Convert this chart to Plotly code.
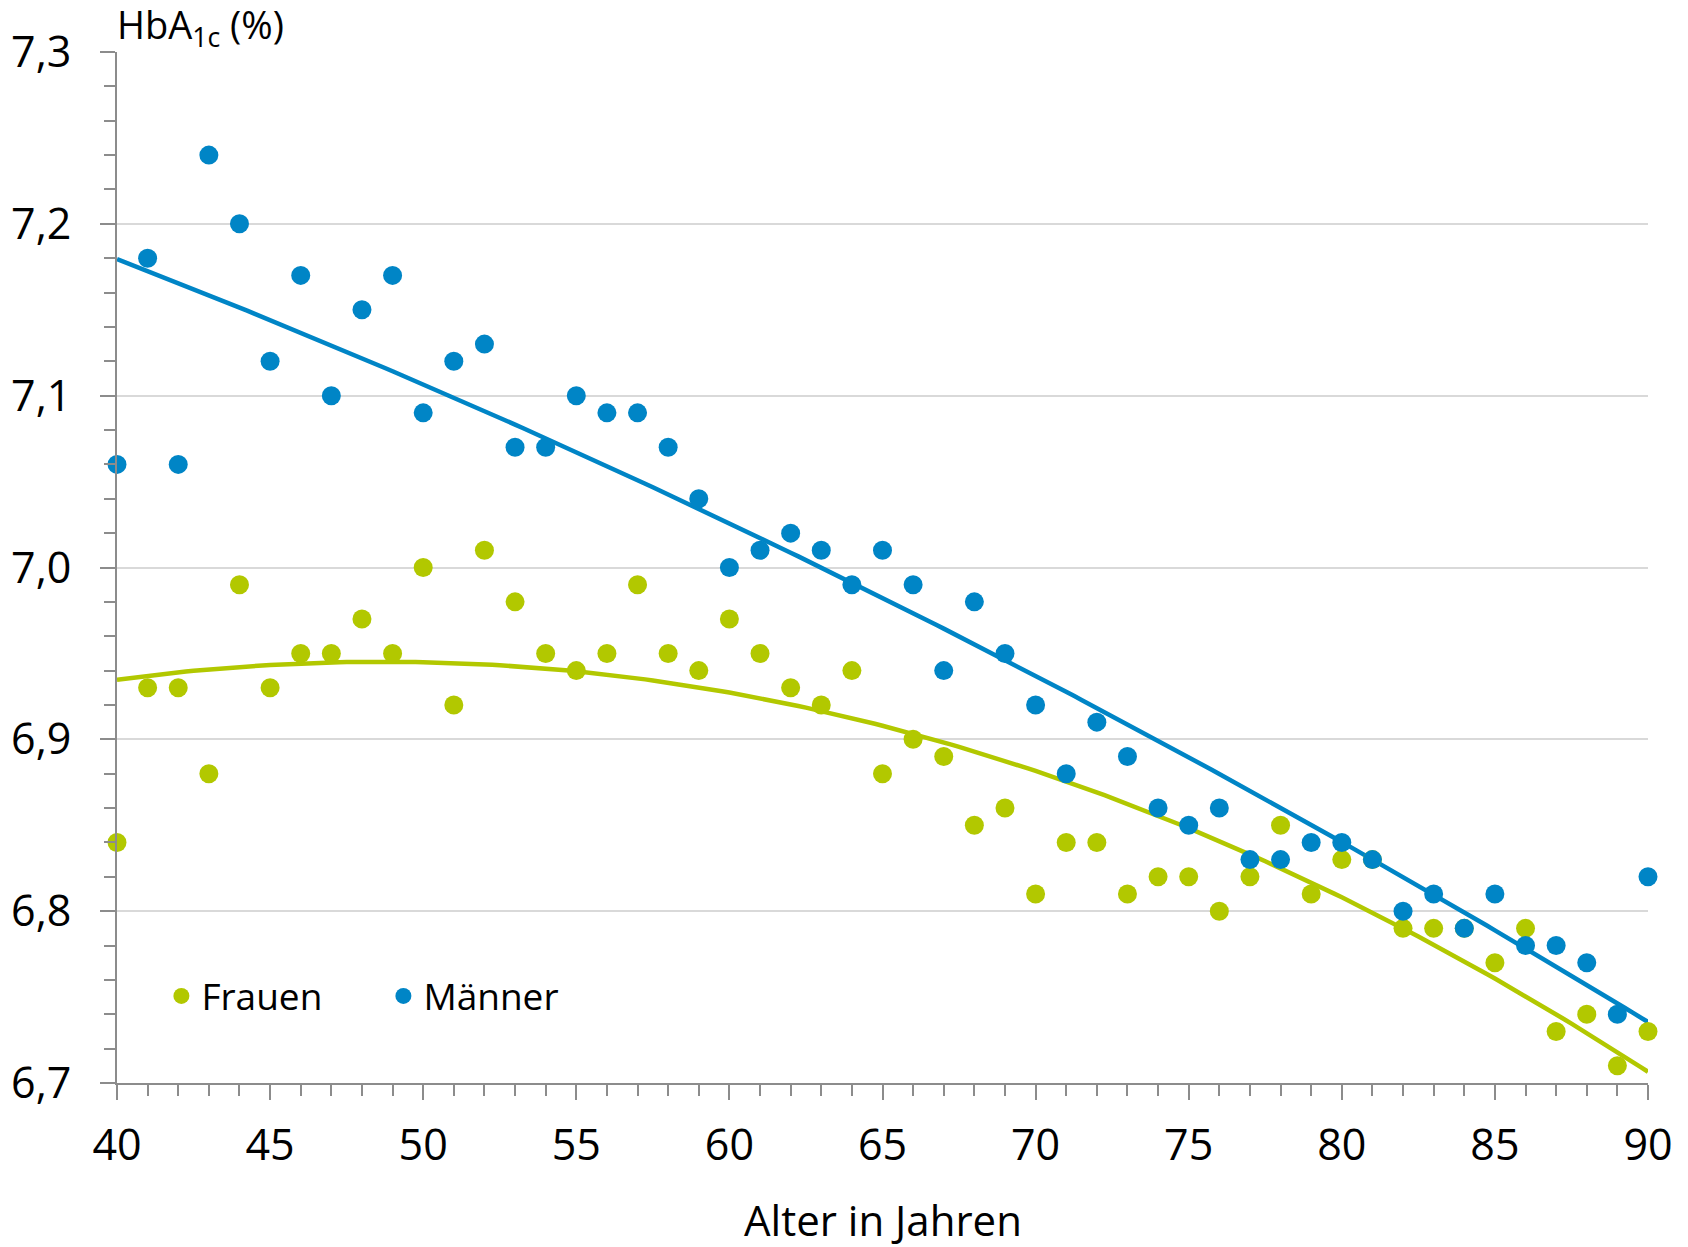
import numpy as np
import plotly.graph_objects as go

# Data
ages = list(range(40, 91))
frauen = [6.84, 6.93, 6.93, 6.88, 6.99, 6.93, 6.95, 6.95, 6.97, 6.95,
          7.00, 6.92, 7.01, 6.98, 6.95, 6.94, 6.95, 6.99, 6.95, 6.94,
          6.97, 6.95, 6.93, 6.92, 6.94, 6.88, 6.90, 6.89, 6.85, 6.86,
          6.81, 6.84, 6.84, 6.81, 6.82, 6.82, 6.80, 6.82, 6.85, 6.81,
          6.83, 6.83, 6.79, 6.79, 6.79, 6.77, 6.79, 6.73, 6.74, 6.71,
          6.73]
maenner = [7.06, 7.18, 7.06, 7.24, 7.20, 7.12, 7.17, 7.10, 7.15, 7.17,
           7.09, 7.12, 7.13, 7.07, 7.07, 7.10, 7.09, 7.09, 7.07, 7.04,
           7.00, 7.01, 7.02, 7.01, 6.99, 7.01, 6.99, 6.94, 6.98, 6.95,
           6.92, 6.88, 6.91, 6.89, 6.86, 6.85, 6.86, 6.83, 6.83, 6.84,
           6.84, 6.83, 6.80, 6.81, 6.79, 6.81, 6.78, 6.78, 6.77, 6.74,
           6.82]
series_names = ["Frauen", "Männer"]
x_ticks = [40, 45, 50, 55, 60, 65, 70, 75, 80, 85, 90]
y_ticks = [6.7, 6.8, 6.9, 7.0, 7.1, 7.2, 7.3]

GREEN = "#B2C800"
BLUE = "#0085C6"
FONT = "Open Sans, Noto Sans, sans-serif"

# Quadratic trend lines (as in the original spreadsheet chart)
xf = np.linspace(min(ages), max(ages), 201)
fit_f = np.polyval(np.polyfit(ages, frauen, 2), xf)
fit_m = np.polyval(np.polyfit(ages, maenner, 2), xf)

fig = go.Figure()
fig.add_trace(go.Scatter(x=xf, y=fit_f, mode="lines", line=dict(color=GREEN, width=4.5),
                         showlegend=False, hoverinfo="skip", cliponaxis=False))
fig.add_trace(go.Scatter(x=xf, y=fit_m, mode="lines", line=dict(color=BLUE, width=4.5),
                         showlegend=False, hoverinfo="skip", cliponaxis=False))
fig.add_trace(go.Scatter(x=ages, y=frauen, mode="markers", name=series_names[0],
                         marker=dict(color=GREEN, size=19), cliponaxis=False))
fig.add_trace(go.Scatter(x=ages, y=maenner, mode="markers", name=series_names[1],
                         marker=dict(color=BLUE, size=19), cliponaxis=False))

fig.update_layout(
    width=1688, height=1247,
    margin=dict(l=117, r=40, t=52, b=164, autoexpand=False),
    plot_bgcolor="white", paper_bgcolor="white",
    separators=",.",
    font=dict(family=FONT, size=43, color="#000000"),
    showlegend=True,
    legend=dict(orientation="h", x=0.029, y=0.084, xanchor="left", yanchor="middle",
                font=dict(size=37, family=FONT), bgcolor="rgba(0,0,0,0)",
                entrywidth=177, entrywidthmode="pixels", itemsizing="trace"),
    annotations=[
        dict(text="HbA<sub>1c</sub> (%)", x=0, y=1, xref="paper", yref="paper",
             xanchor="left", yanchor="bottom", showarrow=False,
             font=dict(size=38, family=FONT), xshift=-2, yshift=-5),
        dict(text="Alter in Jahren", x=0.5, y=-0.132, xref="paper", yref="paper",
             xanchor="center", yanchor="middle", showarrow=False,
             font=dict(size=42, family=FONT)),
    ],
)

fig.update_xaxes(
    range=[40, 90], tickvals=x_ticks, ticks="outside", ticklen=15, tickwidth=2,
    tickcolor="#8c8c8c", showline=True, linecolor="#8c8c8c", linewidth=2,
    showgrid=False, zeroline=False, tickfont=dict(size=43), automargin=False,
    minor=dict(dtick=1, ticks="outside", ticklen=11, tickwidth=2, tickcolor="#8c8c8c", showgrid=False),
    ticklabelstandoff=8,
)
fig.update_yaxes(
    range=[6.7, 7.3], tickvals=y_ticks, tickformat=".1f", ticks="outside", ticklen=15, tickwidth=2,
    tickcolor="#8c8c8c", showline=True, linecolor="#8c8c8c", linewidth=2,
    showgrid=True, gridcolor="#d9d9d9", gridwidth=1.5, zeroline=False, tickfont=dict(size=43),
    automargin=False,
    minor=dict(dtick=0.02, tick0=6.7, ticks="outside", ticklen=11, tickwidth=2, tickcolor="#8c8c8c", showgrid=False),
    ticklabelstandoff=20,
)

fig.write_html("out.html")
